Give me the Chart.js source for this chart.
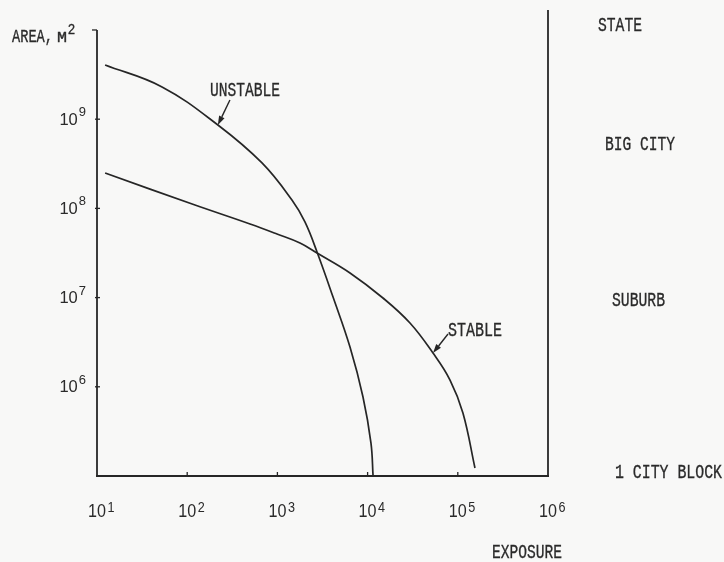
<!DOCTYPE html>
<html><head><meta charset="utf-8">
<script src="https://cdn.jsdelivr.net/npm/chart.js@4/dist/chart.umd.min.js"></script>
<style>
html,body{margin:0;padding:0;background:#f8f8f7;}
#wrap{width:724px;height:562px;position:relative;}
canvas{display:block;}
</style></head><body>
<div id="wrap"><canvas id="c" width="724" height="562"></canvas></div>
<script>
// ---- data (log-log axes) ----
const unstableExposure = [12.3, 52.6, 219, 675, 1450, 2020, 2750, 4130, 6380, 8890, 10900, 11500];
const unstableArea     = [4.05e9, 2.30e9, 8.61e8, 3.23e8, 1.24e8, 7.04e7, 3.24e7, 1.02e7, 2.79e6, 7.69e5, 2.34e5, 1.0e5];
const stableExposure   = [12.3, 122, 497, 990, 1780, 2750, 6380, 14800, 29500, 53100, 82000, 114000, 155000];
const stableArea       = [2.49e8, 1.09e8, 6.68e7, 5.16e7, 4.09e7, 3.16e7, 1.89e7, 9.90e6, 5.19e6, 2.39e6, 1.19e6, 5.09e5, 1.23e5];
const xTickExponents   = [1, 2, 3, 4, 5, 6];
const yTickExponents   = [6, 7, 8, 9];
const yTickMarkExps    = [6, 7, 8, 9, 10];
const xTickMarkExps    = [2, 3, 4, 5];
const seriesNames      = ['UNSTABLE', 'STABLE'];
const sizeLabels       = ['STATE', 'BIG CITY', 'SUBURB', '1 CITY BLOCK'];
const xAxisTitle       = 'EXPOSURE';
const yAxisTitle       = 'AREA,';
const yAxisUnit        = 'M';
const yAxisUnitExp     = '2';

const INK = '#262626';
const TXT = '#2a2a2a';
const SANS = '"Liberation Sans", Arial, sans-serif';
const MONO = '"Liberation Mono", "DejaVu Sans Mono", monospace';

function pts(xs, ys) { return xs.map((x, i) => ({x: x, y: ys[i]})); }

function fitText(ctx, text, xLeft, baseline, width, size, fam) {
  ctx.save();
  ctx.font = size + 'px ' + (fam || MONO);
  const w = ctx.measureText(text).width;
  const s = width / w;
  ctx.translate(xLeft, baseline);
  ctx.scale(s, 1);
  ctx.textAlign = 'left';
  ctx.textBaseline = 'alphabetic';
  ctx.fillStyle = TXT;
  ctx.strokeStyle = TXT;
  ctx.lineWidth = 0.35;
  ctx.fillText(text, 0, 0);
  ctx.strokeText(text, 0, 0);
  ctx.restore();
}
function scaledText(ctx, text, x, baseline, size, hs, align) {
  ctx.save();
  ctx.font = size + 'px ' + SANS;
  const w = ctx.measureText(text).width * hs;
  let x0 = x;
  if (align === 'center') x0 = x - w / 2;
  else if (align === 'right') x0 = x - w;
  ctx.translate(x0, baseline);
  ctx.scale(hs, 1);
  ctx.textAlign = 'left';
  ctx.textBaseline = 'alphabetic';
  ctx.fillStyle = TXT;
  ctx.fillText(text, 0, 0);
  ctx.restore();
  return w;
}
function arrow(ctx, x1, y1, x2, y2) {
  const ang = Math.atan2(y2 - y1, x2 - x1);
  const L = 9, W = 3;
  ctx.save();
  ctx.strokeStyle = INK; ctx.fillStyle = INK; ctx.lineWidth = 1.4;
  ctx.beginPath(); ctx.moveTo(x1, y1);
  ctx.lineTo(x2 - Math.cos(ang) * L, y2 - Math.sin(ang) * L); ctx.stroke();
  ctx.beginPath();
  ctx.moveTo(x2, y2);
  ctx.lineTo(x2 - Math.cos(ang) * L - Math.sin(ang) * W, y2 - Math.sin(ang) * L + Math.cos(ang) * W);
  ctx.lineTo(x2 - Math.cos(ang) * L + Math.sin(ang) * W, y2 - Math.sin(ang) * L - Math.cos(ang) * W);
  ctx.closePath(); ctx.fill();
  ctx.restore();
}

const decor = {
  id: 'decor',
  afterDatasetsDraw(chart) {
    const ctx = chart.ctx;
    const xs = chart.scales.x, ys = chart.scales.y;
    const a = chart.chartArea;
    ctx.save();
    ctx.strokeStyle = INK;
    ctx.lineWidth = 1.8;
    ctx.lineCap = 'butt';
    const yTop = ys.getPixelForValue(Math.pow(10, 10));
    ctx.beginPath(); ctx.moveTo(a.left, yTop); ctx.lineTo(a.left, a.bottom); ctx.stroke();
    ctx.beginPath(); ctx.moveTo(a.left - 1, a.bottom); ctx.lineTo(a.right + 1, a.bottom); ctx.stroke();
    ctx.beginPath(); ctx.moveTo(a.right, a.top); ctx.lineTo(a.right, a.bottom); ctx.stroke();
    ctx.lineWidth = 1.3;
    yTickMarkExps.forEach(e => {
      const y = ys.getPixelForValue(Math.pow(10, e));
      ctx.beginPath();
      if (e === 10) { ctx.moveTo(a.left - 5, y); ctx.lineTo(a.left, y); }
      else { ctx.moveTo(a.left - 2, y); ctx.lineTo(a.left + 3, y); }
      ctx.stroke();
    });
    xTickMarkExps.forEach(e => {
      const x = xs.getPixelForValue(Math.pow(10, e));
      ctx.beginPath(); ctx.moveTo(x, a.bottom); ctx.lineTo(x, a.bottom - 4); ctx.stroke();
    });
    ctx.restore();

    // y tick labels
    yTickExponents.forEach(e => {
      const y = ys.getPixelForValue(Math.pow(10, e));
      const supRight = a.left - 11;
      const sw = scaledText(ctx, String(e), supRight, y - 3, 13, 1, 'right');
      scaledText(ctx, '10', supRight - sw - 1, y + 5.5, 16.5, 1, 'right');
    });
    // x tick labels
    xTickExponents.forEach(e => {
      const x = xs.getPixelForValue(Math.pow(10, e));
      const w = scaledText(ctx, '10', x, a.bottom + 41, 19, 0.85, 'center');
      scaledText(ctx, String(e), x + w / 2 + 1.5, a.bottom + 36, 14, 0.9, 'left');
    });
    // axis titles
    fitText(ctx, xAxisTitle, 492, a.bottom + 82, 70, 21);
    fitText(ctx, yAxisTitle, 12, 42, 41, 19);
    fitText(ctx, yAxisUnit, 57, 42, 10, 14);
    fitText(ctx, yAxisUnitExp, 68, 34, 7, 14, SANS);

    // series labels with arrows
    const m0 = chart.getDatasetMeta(0).data[2];
    const m1 = chart.getDatasetMeta(1).data[9];
    fitText(ctx, seriesNames[0], 210, 96, 70, 21);
    arrow(ctx, m0.x + 12, m0.y - 25, m0.x, m0.y);
    fitText(ctx, seriesNames[1], 448, 336, 54, 21);
    arrow(ctx, m1.x + 15, m1.y - 19, m1.x, m1.y);

    // right-side size labels
    fitText(ctx, sizeLabels[0], 598, 31, 44, 21);
    fitText(ctx, sizeLabels[1], 605, 150, 70, 21);
    fitText(ctx, sizeLabels[2], 612, 306, 53, 21);
    fitText(ctx, sizeLabels[3], 615, 478, 107, 21);
  }
};

new Chart(document.getElementById('c'), {
  type: 'line',
  data: {
    datasets: [
      { label: seriesNames[0], data: pts(unstableExposure, unstableArea) },
      { label: seriesNames[1], data: pts(stableExposure, stableArea) }
    ]
  },
  options: {
    responsive: false,
    animation: false,
    devicePixelRatio: 1,
    layout: { padding: { left: 97, right: 176, top: 10, bottom: 86 } },
    elements: {
      line: { borderColor: INK, borderWidth: 1.7, tension: 0.4, fill: false },
      point: { radius: 0, hoverRadius: 0 }
    },
    plugins: { legend: { display: false }, tooltip: { enabled: false } },
    scales: {
      x: {
        type: 'logarithmic', min: 10, max: 1e6,
        ticks: { display: false }, grid: { display: false }, border: { display: false },
        afterFit(s) { s.height = 0; }
      },
      y: {
        type: 'logarithmic', min: 1e5, max: 1.675e10,
        ticks: { display: false }, grid: { display: false }, border: { display: false },
        afterFit(s) { s.width = 0; }
      }
    }
  },
  plugins: [decor]
});
</script>
</body></html>
